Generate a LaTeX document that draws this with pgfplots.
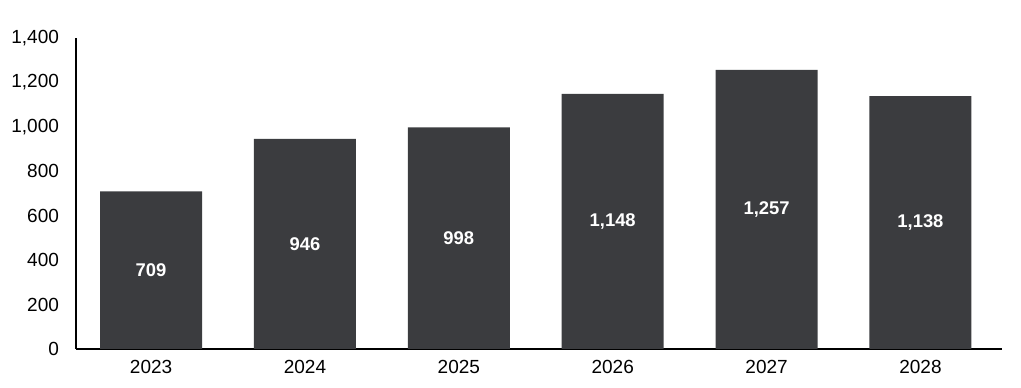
\documentclass[border=0pt]{standalone}
\usepackage{pgfplots}
\usepackage{pgfplotstable}
\pgfplotsset{compat=1.18}
\usepackage{fontspec}
\setmainfont{Liberation Sans}
\definecolor{barc}{HTML}{3B3C3F}
\pgfplotstableread{
x y
0 709
1 946
2 998
3 1148
4 1257
5 1138
}\data
\begin{document}
\begin{tikzpicture}
\begin{axis}[name=ax,
  scale only axis, width=463pt, height=155.5pt,
  xmin=-0.488, xmax=5.53, ymin=0, ymax=1400,
  axis lines=left, axis line style={black, line width=0.6pt, -},
  xtick={0,1,2,3,4,5}, xticklabels={2023,2024,2025,2026,2027,2028},
  ytick={0,200,...,1400},
  major tick length=0pt,
  tick label style={font=\fontsize{9.5}{10}\selectfont, black},
  /pgf/number format/assume math mode=true,
  /pgf/number format/1000 sep={,},
  xticklabel style={yshift=-2pt},
  yticklabel style={xshift=-5pt},
  clip=false,
]
\addplot[ybar, bar width=51pt, fill=barc, draw=none] table[x=x,y=y]{\data};
\addplot[draw=none, mark=none, nodes near coords, point meta=explicit,
  nodes near coords style={white, font=\fontsize{9.2}{10}\selectfont\bfseries, anchor=center}]
  table[x=x, y expr=\thisrow{y}/2, meta=y]{\data};
\end{axis}
\path[use as bounding box] ([xshift=-38pt,yshift=-19.5pt]ax.south west) rectangle ([xshift=9.5pt,yshift=19pt]ax.north east);
\end{tikzpicture}
\end{document}
